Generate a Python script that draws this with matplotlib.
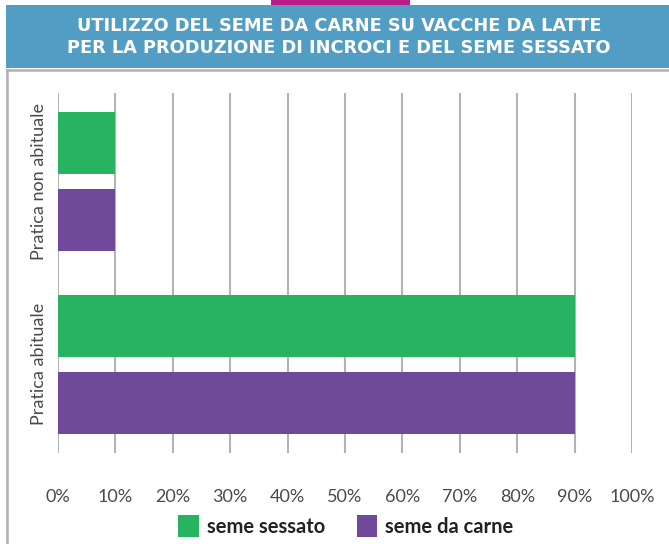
import matplotlib
matplotlib.use("Agg")
import matplotlib.pyplot as plt
from matplotlib.patches import Rectangle, Patch
from matplotlib.lines import Line2D

categories = ["Pratica non abituale", "Pratica abituale"]
seme_sessato = [10, 90]
seme_da_carne = [10, 90]
xticks = [0, 10, 20, 30, 40, 50, 60, 70, 80, 90, 100]
xtick_labels = [f"{t}%" for t in xticks]
title_lines = ["UTILIZZO DEL SEME DA CARNE SU VACCHE DA LATTE",
               "PER LA PRODUZIONE DI INCROCI E DEL SEME SESSATO"]

GREEN = "#27B35F"
PURPLE = "#71499B"
BLUE = "#529DC3"
MAGENTA = "#B91C87"
GRID = "#B3B3B3"
TXT = "#4A4A4A"

W, H = 669, 544
fig = plt.figure(figsize=(W / 100, H / 100), dpi=100)

def fx(px):
    return px / W

def fy(py):
    return 1 - py / H

# decorations
fig.patches.append(Rectangle((fx(271), fy(6)), fx(139), 6 / H, transform=fig.transFigure,
                             facecolor=MAGENTA, edgecolor="none"))
fig.patches.append(Rectangle((fx(6), fy(68)), 1 - fx(6), 63 / H, transform=fig.transFigure,
                             facecolor=BLUE, edgecolor="none"))
fig.lines.append(Line2D([fx(7), fx(7)], [fy(70), 0], transform=fig.transFigure, color="#B0B0B0", lw=1.8))
fig.lines.append(Line2D([fx(7), 1], [fy(70), fy(70)], transform=fig.transFigure, color="#B0B0B0", lw=1.8))

title_font = ["DejaVu Sans"]
fig.text(fx(339), fy(26), title_lines[0], ha="center", va="center", color="white",
         fontsize=12.8, fontweight="bold", family=title_font)
fig.text(fx(339), fy(48), title_lines[1], ha="center", va="center", color="white",
         fontsize=12.8, fontweight="bold", family=title_font)

# axes
ax = fig.add_axes([fx(58), fy(453), fx(632) - fx(58), (453 - 93) / H])
pos = list(range(len(categories)))
off = 77 / 2 / 182
h = 62 / 182
ax.barh([p - off for p in pos], seme_sessato, height=h, color=GREEN, zorder=3)
ax.barh([p + off for p in pos], seme_da_carne, height=h, color=PURPLE, zorder=3)
ax.set_ylim(1.489, -0.489)
ax.set_xlim(0, 100)
ax.set_xticks(xticks)
ax.set_xticklabels(xtick_labels)
for t in xticks:
    ax.axvline(t, color=GRID, lw=1.5, zorder=1)
ax.set_yticks(pos)
ax.set_yticklabels(categories, rotation=90, va="center")
for s in ax.spines.values():
    s.set_visible(False)
ax.tick_params(axis="x", length=0, pad=26, labelsize=13, labelcolor=TXT)
ax.tick_params(axis="y", length=0, pad=8, labelsize=13, labelcolor=TXT)
for lab in ax.get_xticklabels() + ax.get_yticklabels():
    lab.set_family(["Lato", "DejaVu Sans"])

handles = [Patch(facecolor=GREEN, label="seme sessato"), Patch(facecolor=PURPLE, label="seme da carne")]
leg = fig.legend(handles=handles, loc="center", bbox_to_anchor=(fx(346), fy(526)), ncol=2,
                 frameon=False, handlelength=1.0, handleheight=1.3, handletextpad=0.4,
                 columnspacing=1.6, prop={"family": ["Lato", "DejaVu Sans"], "weight": "bold", "size": 14.5})
for t in leg.get_texts():
    t.set_color("#222222")

fig.savefig("out.png", dpi=100)
